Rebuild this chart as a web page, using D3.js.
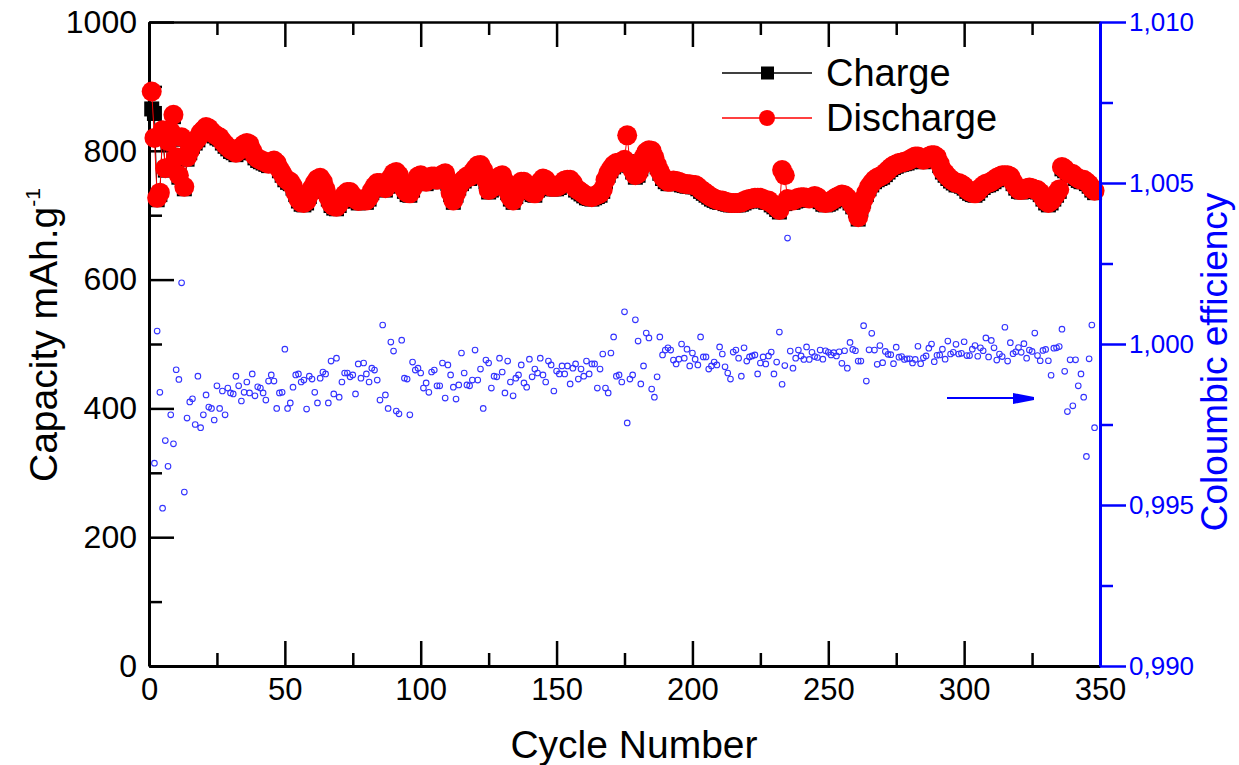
<!DOCTYPE html>
<html>
<head>
<meta charset="utf-8">
<script src="https://cdn.jsdelivr.net/npm/d3@7"></script>
<style>
  body { margin: 0; background: #fff; }
  svg text { font-family: "Liberation Sans", Arial, sans-serif; }
</style>
</head>
<body>
<div id="vis1"></div>
<script>
/********************************************************************
Datos: capacidad por ciclo (mAh/g) y eficiencia coulombica
*********************************************************************/

// Discharge capacity, cycle 1 .. 348
const discharge = [
  892, 820, 727, 735, 832, 773, 815, 830, 856, 790,
  762, 821, 744, 790, 800, 810, 815, 820, 828, 832,
  837, 835, 830, 826, 823, 821, 815, 810, 806, 802,
  800, 797, 800, 806, 810, 812, 810, 800, 792, 788,
  786, 784, 782, 780, 783, 785, 781, 772, 765, 758,
  754, 752, 745, 735, 725, 720, 719, 722, 732, 742,
  750, 756, 758, 752, 740, 728, 718, 714, 713, 718,
  725, 732, 736, 736, 730, 725, 722, 723, 725, 723,
  728, 738, 745, 750, 750, 744, 742, 748, 758, 765,
  767, 762, 750, 740, 735, 734, 742, 752, 760, 762,
  758, 752, 755, 760, 760, 755, 758, 763, 765, 752,
  735, 723, 734, 745, 752, 756, 760, 760, 766, 772,
  777, 778, 770, 755, 739, 742, 750, 756, 760, 762,
  752, 738, 728, 723, 732, 745, 752, 752, 745, 738,
  735, 734, 742, 752, 757, 755, 748, 744, 744, 744,
  746, 750, 754, 755, 755, 750, 742, 739, 736, 733,
  730, 729, 728, 730, 732, 734, 740, 755, 765, 772,
  778, 781, 782, 783, 786, 824, 780, 770, 762, 765,
  775, 790, 798, 801, 800, 790, 778, 768, 760, 755,
  752, 752, 754, 753, 752, 750, 749, 748, 748, 747,
  747, 744, 740, 737, 734, 731, 728, 726, 724, 723,
  723, 721, 720, 719, 719, 719, 719, 720, 722, 724,
  725, 726, 727, 727, 727, 725, 723, 723, 719, 716,
  712, 708, 770, 762, 725, 723, 723, 725, 727, 728,
  728, 727, 726, 728, 730, 728, 724, 720, 719, 720,
  722, 725, 728, 730, 732, 731, 727, 722, 716, 710,
  697, 712, 725, 735, 744, 750, 755, 758, 760, 762,
  766, 770, 774, 777, 779, 781, 782, 783, 784, 786,
  789, 791, 791, 788, 786, 788, 791, 793, 793, 790,
  780, 770, 765, 760, 756, 753, 750, 750, 748, 745,
  740, 737, 735, 734, 737, 742, 746, 749, 750, 752,
  755, 758, 760, 762, 762, 762, 760, 752, 745, 740,
  739, 740, 742, 743, 742, 740, 739, 735, 728, 722,
  719, 722, 728, 734, 740, 775, 772, 767, 765, 764,
  760, 757, 755, 755, 752, 748, 742, 738
];

// Charge capacity, cycle 1 .. 348
const charge = [
  865, 858, 724, 732, 829, 770, 812, 827, 853, 787,
  759, 818, 741, 787, 797, 807, 812, 817, 825, 829,
  834, 832, 827, 823, 820, 818, 812, 807, 803, 799,
  797, 794, 797, 803, 807, 809, 807, 797, 789, 785,
  783, 781, 779, 777, 780, 782, 778, 769, 762, 755,
  751, 749, 742, 732, 722, 717, 716, 719, 729, 739,
  747, 753, 755, 749, 737, 725, 715, 711, 710, 715,
  722, 729, 733, 733, 727, 722, 719, 720, 722, 720,
  725, 735, 742, 747, 747, 741, 739, 745, 755, 762,
  764, 759, 747, 737, 732, 731, 739, 749, 757, 759,
  755, 749, 752, 757, 757, 752, 755, 760, 762, 749,
  732, 720, 731, 742, 749, 753, 757, 757, 763, 769,
  774, 775, 767, 752, 736, 739, 747, 753, 757, 759,
  749, 735, 725, 720, 729, 742, 749, 749, 742, 735,
  732, 731, 739, 749, 754, 752, 745, 741, 741, 741,
  743, 747, 751, 752, 752, 747, 739, 736, 733, 730,
  727, 726, 725, 727, 729, 731, 737, 752, 762, 769,
  775, 778, 779, 780, 783, 783, 777, 767, 759, 762,
  772, 787, 795, 798, 797, 787, 775, 765, 757, 752,
  749, 749, 751, 750, 749, 747, 746, 745, 745, 744,
  744, 741, 737, 734, 731, 728, 725, 723, 721, 720,
  720, 718, 717, 716, 716, 716, 716, 717, 719, 721,
  722, 723, 724, 724, 724, 722, 720, 720, 716, 713,
  709, 705, 718, 718, 722, 720, 720, 722, 724, 725,
  725, 724, 723, 725, 727, 725, 721, 717, 716, 717,
  719, 722, 725, 727, 729, 728, 724, 719, 713, 707,
  694, 709, 722, 732, 741, 747, 752, 755, 757, 759,
  763, 767, 771, 774, 776, 778, 779, 780, 781, 783,
  786, 788, 788, 785, 783, 785, 788, 790, 790, 787,
  777, 767, 762, 757, 753, 750, 747, 747, 745, 742,
  737, 734, 732, 731, 734, 739, 743, 746, 747, 749,
  752, 755, 757, 759, 759, 759, 757, 749, 742, 737,
  736, 737, 739, 740, 739, 737, 736, 732, 725, 719,
  716, 719, 725, 731, 737, 772, 769, 764, 762, 761,
  757, 754, 752, 752, 749, 745, 739, 735
];

// Coulombic efficiency, cycle 1 .. 348 (cycle 1 off scale)
const efficiency = [
  null,
  0.9963, 1.0004, 0.9985, 0.9949, 0.9970, 0.9962, 0.9978, 0.9969, 0.9992, 0.9989,
  1.0019, 0.9954, 0.9977, 0.9982, 0.9983, 0.9975, 0.9990, 0.9974,
  0.9978, 0.99842, 0.99804, 0.998, 0.99764, 0.9987, 0.998, 0.99854, 0.9978, 0.99863,
  0.99848, 0.99845, 0.999, 0.9987, 0.99823, 0.9985, 0.99882, 0.99848, 0.99907, 0.99839,
  0.99867, 0.99863, 0.99848, 0.99826, 0.99885, 0.99904, 0.99885, 0.998, 0.99848, 0.9985,
  0.99984, 0.998, 0.99817, 0.99866, 0.99904, 0.99907, 0.99882, 0.99888, 0.99798, 0.999,
  0.99891, 0.9985, 0.99817, 0.99894, 0.99913, 0.99907, 0.99817, 0.99947, 0.99845, 0.99956,
  0.99835, 0.99882, 0.9991, 0.9991, 0.99898, 0.99904, 0.99845, 0.99938, 0.99894, 0.99941,
  0.99907, 0.99882, 0.99925, 0.99919, 0.99888, 0.99826, 1.00059, 0.99842, 0.998, 1.00006,
  0.99978, 0.99792, 0.99783, 1.00012, 0.99894, 0.99891, 0.9978, 0.99944, 0.99919, 0.99925,
  0.9991, 0.99863, 0.99879, 0.9985, 0.99913, 0.99919, 0.9987, 0.9987, 0.99941, 0.99832,
  0.99935, 0.99904, 0.99866, 0.99829, 0.99873, 0.99972, 0.9991, 0.99873,
  0.9987, 0.99888, 0.99981, 0.99888, 0.99922, 0.998, 0.9995, 0.99941, 0.99863, 0.999,
  0.99898, 0.99956, 0.99913, 0.99848, 0.99947, 0.99882, 0.99839, 0.99894, 0.99904, 0.99935,
  0.99879, 0.99866, 0.99953, 0.99898, 0.99922, 0.9991, 0.99956, 0.99904, 0.99882, 0.99947,
  0.99935, 0.99854, 0.99916, 0.99907, 0.99932, 0.99907, 0.99932, 0.99876, 0.99925, 0.99938,
  0.99891, 0.99922, 0.999, 0.99947, 0.99907, 0.99938, 0.99938, 0.99863, 0.99922, 0.99969,
  0.99863, 0.99848, 0.99972, 1.00022, 0.999, 0.99904, 0.99882, 1.0010, 0.99755, 0.99891,
  0.99904, 1.00075, 1.00009, 0.99876, 0.99932, 1.00034, 1.00019, 0.9986, 0.99835, 0.99898,
  1.00022, 0.99966, 0.99981, 0.99988, 0.99981, 0.9995, 0.99938, 0.99953, 1.0, 0.99956,
  0.99984, 0.99932, 0.99972, 0.99953, 0.99935, 1.00022, 0.9996, 0.9996, 0.99922, 0.99932,
  0.99944, 0.99935, 0.99991, 0.99969, 0.99929, 0.9991, 0.99891, 0.99975, 0.99981, 0.99956,
  0.999, 0.99988, 0.99947, 0.9996, 0.99963, 0.99966, 0.99907, 0.99941, 0.9996, 0.99938,
  0.99963, 0.99975, 0.99907, 0.99944, 1.00037,
  0.99875, 0.99933, 1.00329, 0.99978, 0.99925, 0.99956, 0.99981, 0.99963, 0.99952, 0.99991,
  0.99952, 0.99974, 0.99961, 0.99958, 0.99981, 0.99953, 0.99979, 0.99974, 0.99966, 0.99973,
  0.99963, 0.99976, 0.9994, 0.99979, 0.99925, 1.00005, 0.99983, 0.99979, 0.99947, 0.99947,
  1.00057, 0.99885, 0.99982, 1.00033, 0.99981, 0.99937, 0.99995, 0.99942, 0.99977, 0.99968,
  0.99967, 0.99939, 0.9999, 0.99959,
  0.99961, 0.99952, 0.99954, 0.99954, 0.99941, 0.99952, 0.99993, 0.99939, 0.99957, 0.99963,
  0.99987, 1.0000, 0.99945, 0.99965, 0.99966, 0.99984, 0.99953, 1.00009, 0.99969, 0.99974,
  0.99999, 0.99969, 0.99971, 1.00007, 0.99964, 0.99964, 0.99984, 0.99995, 0.99962, 0.99988,
  0.99979, 1.00019, 0.9996, 1.00011, 0.99988, 0.9995, 0.99969, 0.99961, 1.00052, 0.99947,
  1.00004, 0.9997, 0.99976, 0.99989, 0.99974, 1.00001, 0.99956, 0.99981, 0.99977, 1.00034,
  0.99964, 0.99948, 0.9998, 0.99983, 0.99948, 0.99903, 0.99987, 0.99988, 0.99992, 1.00046,
  0.99915, 0.9979, 0.99951, 0.99808, 0.99951, 0.9987, 0.99907, 0.99835, 0.99651, 0.99954,
  1.00059, 0.9974
];

// Ticks
const capTicks = [0, 200, 400, 600, 800, 1000];
const capMinor = [100, 300, 500, 700, 900];
const cycleTicks = [0, 50, 100, 150, 200, 250, 300, 350];
const cycleMinor = [25, 75, 125, 175, 225, 275, 325];
const ceTicks = [0.990, 0.995, 1.000, 1.005, 1.010];
const ceMinor = [0.9925, 0.9975, 1.0025, 1.0075];
const legendLabels = ["Charge", "Discharge"];

/********************************************************************
Tamaños
*********************************************************************/
const WIDTH = 1239;
const HEIGHT = 765;
const margin = { top: 22, right: 139, bottom: 99, left: 149 };
const plotRight = WIDTH - margin.right;
const plotBottom = HEIGHT - margin.bottom;

const cycles = discharge.map((d, i) => i + 1);

/********************************************************************
Escalas
*********************************************************************/
const x = d3.scaleLinear().domain([0, 350]).range([margin.left, plotRight]);
const y = d3.scaleLinear().domain([0, 1000]).range([plotBottom, margin.top]);
const yCE = d3.scaleLinear().domain([0.990, 1.010]).range([plotBottom, margin.top]);

const svg = d3.select("#vis1")
  .append("svg")
  .attr("width", WIDTH)
  .attr("height", HEIGHT);

// Aplica el estilo de los ejes de Origin
function styleAxis(g, fontSize) {
  g.attr("font-family", '"Liberation Sans", Arial, sans-serif')
    .attr("font-size", fontSize);
  g.select(".domain").attr("stroke-width", 3);
  g.selectAll(".tick line").attr("stroke-width", 2.5);
}

/********************************************************************
Ejes
*********************************************************************/
// izquierdo
svg.append("g")
  .attr("transform", `translate(${margin.left},0)`)
  .call(d3.axisLeft(y).tickValues(capTicks).tickFormat(d3.format("d"))
    .tickSizeInner(-25).tickSizeOuter(0).tickPadding(12))
  .call(g => styleAxis(g, 32));
svg.append("g")
  .attr("transform", `translate(${margin.left},0)`)
  .call(d3.axisLeft(y).tickValues(capMinor).tickSize(-13).tickFormat(""))
  .call(g => { styleAxis(g, 10); g.select(".domain").remove(); });

// inferior
svg.append("g")
  .attr("transform", `translate(0,${plotBottom})`)
  .call(d3.axisBottom(x).tickValues(cycleTicks).tickFormat(d3.format("d"))
    .tickSizeInner(-25).tickSizeOuter(0).tickPadding(12))
  .call(g => styleAxis(g, 31));
svg.append("g")
  .attr("transform", `translate(0,${plotBottom})`)
  .call(d3.axisBottom(x).tickValues(cycleMinor).tickSize(-13).tickFormat(""))
  .call(g => { styleAxis(g, 10); g.select(".domain").remove(); });

// superior (marco)
svg.append("g")
  .attr("transform", `translate(0,${margin.top})`)
  .call(d3.axisTop(x).tickValues(cycleTicks).tickSizeInner(-25).tickSizeOuter(0).tickFormat(""))
  .call(g => { styleAxis(g, 10); g.select(".domain").attr("stroke-width", 2.5); });
svg.append("g")
  .attr("transform", `translate(0,${margin.top})`)
  .call(d3.axisTop(x).tickValues(cycleMinor).tickSize(-13).tickFormat(""))
  .call(g => { styleAxis(g, 10); g.select(".domain").remove(); });

/********************************************************************
Series de capacidad
*********************************************************************/
const line = d3.line()
  .x((d, i) => x(cycles[i]))
  .y(d => y(d));

svg.append("path")
  .datum(charge)
  .attr("d", line)
  .attr("fill", "none")
  .attr("stroke", "#000")
  .attr("stroke-width", 1);

svg.append("g")
  .selectAll("rect")
  .data(charge)
  .join("rect")
  .attr("x", (d, i) => x(cycles[i]) - 7.5)
  .attr("y", d => y(d) - 7.5)
  .attr("width", 15)
  .attr("height", 15)
  .attr("fill", "#000");

svg.append("path")
  .datum(discharge)
  .attr("d", line)
  .attr("fill", "none")
  .attr("stroke", "#ff0000")
  .attr("stroke-width", 1);

svg.append("g")
  .selectAll("circle")
  .data(discharge)
  .join("circle")
  .attr("cx", (d, i) => x(cycles[i]))
  .attr("cy", d => y(d))
  .attr("r", 10)
  .attr("fill", "#ff0000");

/********************************************************************
Eficiencia coulombica
*********************************************************************/
svg.append("g")
  .selectAll("circle")
  .data(efficiency.map((d, i) => ({ cycle: cycles[i], ce: d })).filter(d => d.ce !== null))
  .join("circle")
  .attr("cx", d => x(d.cycle))
  .attr("cy", d => yCE(d.ce))
  .attr("r", 2.8)
  .attr("fill", "none")
  .attr("stroke", "#3333ff")
  .attr("stroke-width", 1.1);

// flecha hacia el eje derecho
svg.append("line")
  .attr("x1", 947).attr("y1", 398)
  .attr("x2", 1016).attr("y2", 398)
  .attr("stroke", "#0000ff")
  .attr("stroke-width", 2);
svg.append("path")
  .attr("d", "M1013,393 L1034,397 L1034,400 L1013,404 Z")
  .attr("fill", "#0000ff");

// eje derecho (azul)
svg.append("g")
  .attr("transform", `translate(${plotRight},0)`)
  .attr("color", "#0000ff")
  .call(d3.axisRight(yCE).tickValues(ceTicks).tickSizeInner(26).tickSizeOuter(0).tickPadding(3)
    .tickFormat(d => d3.format(".3f")(d).replace(".", ",")))
  .call(g => styleAxis(g, 26));
svg.append("g")
  .attr("transform", `translate(${plotRight},0)`)
  .attr("color", "#0000ff")
  .call(d3.axisRight(yCE).tickValues(ceMinor).tickSize(13).tickFormat(""))
  .call(g => { styleAxis(g, 10); g.select(".domain").remove(); });

/********************************************************************
Títulos
*********************************************************************/
svg.append("text")
  .attr("x", 634)
  .attr("y", 758)
  .attr("text-anchor", "middle")
  .attr("font-size", 39)
  .attr("fill", "#000")
  .text("Cycle Number");

const yTitle = svg.append("text")
  .attr("transform", "translate(57,335) rotate(-90)")
  .attr("text-anchor", "middle")
  .attr("font-size", 39)
  .attr("fill", "#000");
yTitle.append("tspan").text("Capacity mAh.g");
yTitle.append("tspan").attr("dy", -17).attr("font-size", 21).text("-1");

svg.append("text")
  .attr("transform", "translate(1227,362) rotate(-90)")
  .attr("text-anchor", "middle")
  .attr("font-size", 37)
  .attr("fill", "#0000ff")
  .text("Coloumbic efficiency");

/********************************************************************
Leyenda
*********************************************************************/
const legend = svg.append("g").attr("transform", "translate(722,73)");
const legendColors = ["#000", "#ff0000"];

legendLabels.forEach((label, i) => {
  const row = legend.append("g").attr("transform", `translate(0,${i * 45})`);
  row.append("line")
    .attr("x1", 0).attr("x2", 90)
    .attr("stroke", legendColors[i])
    .attr("stroke-width", 1.5);
  if (i === 0) {
    row.append("rect")
      .attr("x", 39).attr("y", -6.5)
      .attr("width", 13).attr("height", 13)
      .attr("fill", legendColors[i]);
  } else {
    row.append("circle")
      .attr("cx", 45).attr("r", 8)
      .attr("fill", legendColors[i]);
  }
  row.append("text")
    .attr("x", 104)
    .attr("y", 13)
    .attr("font-size", 38)
    .attr("fill", "#000")
    .text(label);
});
</script>
</body>
</html>
